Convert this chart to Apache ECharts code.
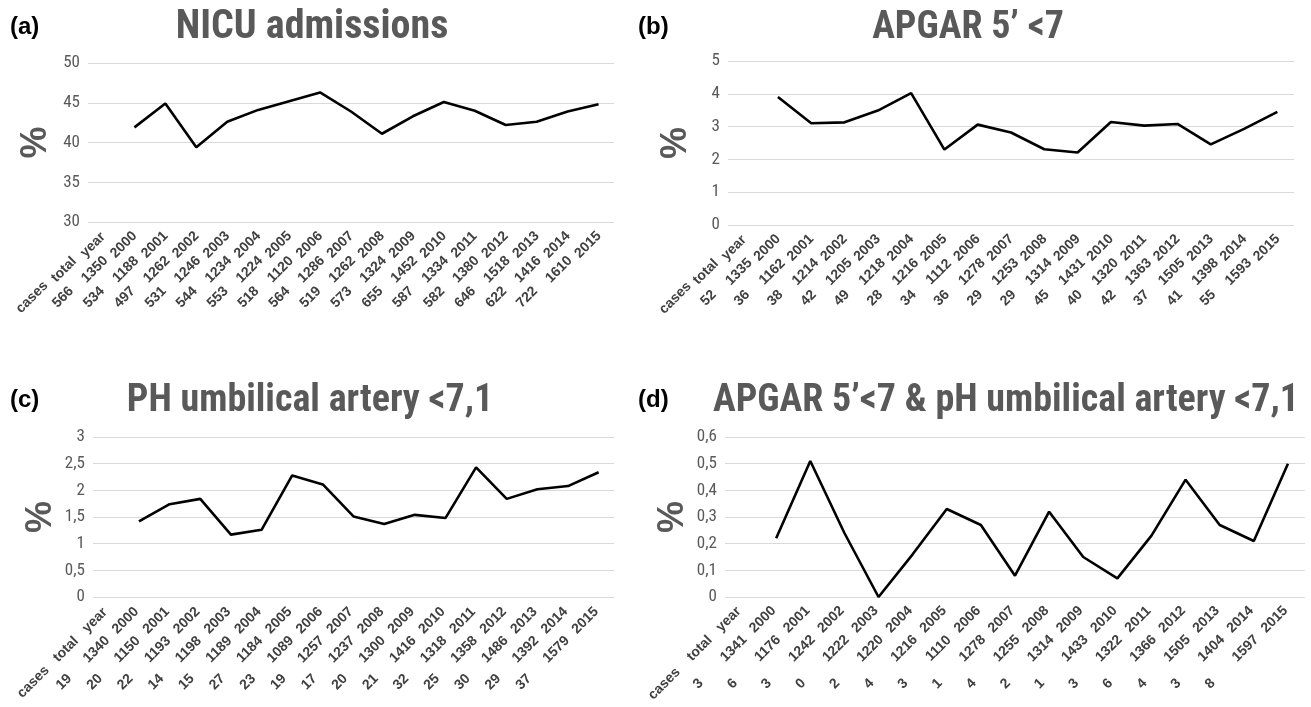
<!DOCTYPE html>
<html><head><meta charset="utf-8">
<script src="https://cdn.jsdelivr.net/npm/echarts@6/dist/echarts.min.js"></script>
<style>html,body{margin:0;padding:0;background:#fff}#c{width:1311px;height:707px}</style>
</head><body><div id="c"></div>
<script>
// ---------- data ----------
const years = ['2000','2001','2002','2003','2004','2005','2006','2007','2008','2009','2010','2011','2012','2013','2014','2015'];
const headerLabel = 'cases|total|year';

const nicuTotal = [1350,1188,1262,1246,1234,1224,1120,1286,1262,1324,1452,1334,1380,1518,1416,1610];
const nicuCases = [566,534,497,531,544,553,518,564,519,573,655,587,582,646,622,722];
const nicuPct   = [41.9,44.9,39.4,42.6,44.1,45.2,46.3,43.9,41.1,43.3,45.1,44.0,42.2,42.6,43.9,44.8];

const apgarTotal = [1335,1162,1214,1205,1218,1216,1112,1278,1253,1314,1431,1320,1363,1505,1398,1593];
const apgarCases = [52,36,38,42,49,28,34,36,29,29,45,40,42,37,41,55];
const apgarPct   = [3.90,3.10,3.13,3.49,4.02,2.30,3.06,2.82,2.31,2.21,3.14,3.03,3.08,2.46,2.93,3.45];

const phTotal = [1340,1150,1193,1198,1189,1184,1089,1257,1237,1300,1416,1318,1358,1486,1392,1579];
const phCases = [19,20,22,14,15,27,23,19,17,20,21,32,25,30,29,37];
const phPct   = [1.42,1.74,1.84,1.17,1.26,2.28,2.11,1.51,1.37,1.54,1.48,2.43,1.84,2.02,2.08,2.34];

const bothTotal = [1341,1176,1242,1222,1220,1216,1110,1278,1255,1314,1433,1322,1366,1505,1404,1597];
const bothCases = [3,6,3,0,2,4,3,1,4,2,1,3,6,4,3,8];
const bothPct   = [0.22,0.51,0.24,0,0.16,0.33,0.27,0.08,0.32,0.15,0.07,0.23,0.44,0.27,0.21,0.50];

const panelLetters = ['(a)','(b)','(c)','(d)'];
const panelTitles = ['NICU admissions','APGAR 5’ <7','PH umbilical artery <7,1','APGAR 5’<7 & pH umbilical artery <7,1'];
const yRanges = [[30,50,5],[0,5,1],[0,3,0.5],[0,0.6,0.1]];

// ---------- layout / style ----------
const NARROW = "'Liberation Sans Narrow','Arial Narrow','Roboto Condensed','DejaVu Sans Condensed','Liberation Sans',sans-serif";
const SANS = "'Liberation Sans',Arial,Helvetica,sans-serif";
const grids = [
  {left:88, top:63, width:526, height:159, outerBoundsMode:'none'},
  {left:728, top:61, width:566, height:164, outerBoundsMode:'none'},
  {left:93, top:437, width:521, height:160, outerBoundsMode:'none'},
  {left:725, top:437, width:580, height:160, outerBoundsMode:'none'}
];
// column widths [cases,total,year], perpendicular step, label margin
const colW = [[44,40,36],[42,38,36],[48,44,38],[56,44,38]];
const perp = [3,3,0,0];
const labMargin = [8,8,10,9];
const titlePos = [[312,28],[968,28],[310,401],[1006,401]];
const titleSize = [40,38,38,38];
const letterPos = [[10,27],[638,27],[10,400],[638,400]];

const panels = [
  [nicuTotal,nicuCases,nicuPct],
  [apgarTotal,apgarCases,apgarPct],
  [phTotal,phCases,phPct],
  [bothTotal,bothCases,bothPct]
];

function cats(total, cases){
  return [headerLabel].concat(years.map((y,i)=>cases[i]+'|'+total[i]+'|'+y));
}
const fmtY = v => String(+(+v).toFixed(1)).replace('.', ',');

const xAxes = [], yAxes = [], series = [], graphics = [];
panels.forEach((p,i)=>{
  const [tot,cas,pct] = p;
  const w = colW[i], d = perp[i];
  const lab = {fontFamily:SANS, fontWeight:'bold', fontSize:14, color:'#404040', lineHeight:15};
  xAxes.push({
    type:'category', gridIndex:i, data:cats(tot,cas), boundaryGap:true,
    axisLine:{show:false}, axisTick:{show:false},
    axisLabel:{
      interval:0, rotate:45, margin:labMargin[i],
      formatter:v=>{const s=v.split('|'); return '{c|'+s[0]+'}{t|'+s[1]+'}{y|'+s[2]+'}';},
      rich:{
        c:Object.assign({width:w[0],align:'center',padding:[0,0,2*d,0]},lab),
        t:Object.assign({width:w[1],align:'center',padding:[d,0,d,0]},lab),
        y:Object.assign({width:w[2],align:'center',padding:[2*d,0,0,0]},lab)
      }
    }
  });
  const r = yRanges[i];
  yAxes.push({
    type:'value', gridIndex:i, min:r[0], max:r[1], interval:r[2],
    axisLine:{show:false}, axisTick:{show:false},
    splitLine:{lineStyle:{color:'#d9d9d9', width:1}},
    axisLabel:{formatter:fmtY, color:'#595959', fontFamily:NARROW, fontSize:17, margin:8},
    name:'%', nameLocation:'middle', nameRotate:90, nameGap:34,
    nameTextStyle:{fontFamily:SANS, fontWeight:'bold', fontSize:36, color:'#595959'}
  });
  series.push({
    type:'line', xAxisIndex:i, yAxisIndex:i,
    data:['-'].concat(pct),
    symbol:'none', showSymbol:false,
    lineStyle:{color:'#000', width:2.6}
  });
  graphics.push({type:'text', x:titlePos[i][0], y:titlePos[i][1],
    style:{text:panelTitles[i], font:"bold "+titleSize[i]+"px "+NARROW, fill:'#595959', textAlign:'center', textVerticalAlign:'middle'}});
  graphics.push({type:'text', x:letterPos[i][0], y:letterPos[i][1],
    style:{text:panelLetters[i], font:"bold 24px "+SANS, fill:'#000', textAlign:'left', textVerticalAlign:'middle'}});
});

const chart = echarts.init(document.getElementById('c'), null, {renderer:'canvas'});
chart.setOption({
  animation:false,
  backgroundColor:'#fff',
  grid:grids,
  xAxis:xAxes,
  yAxis:yAxes,
  series:series,
  graphic:graphics
});
</script>
</body></html>
